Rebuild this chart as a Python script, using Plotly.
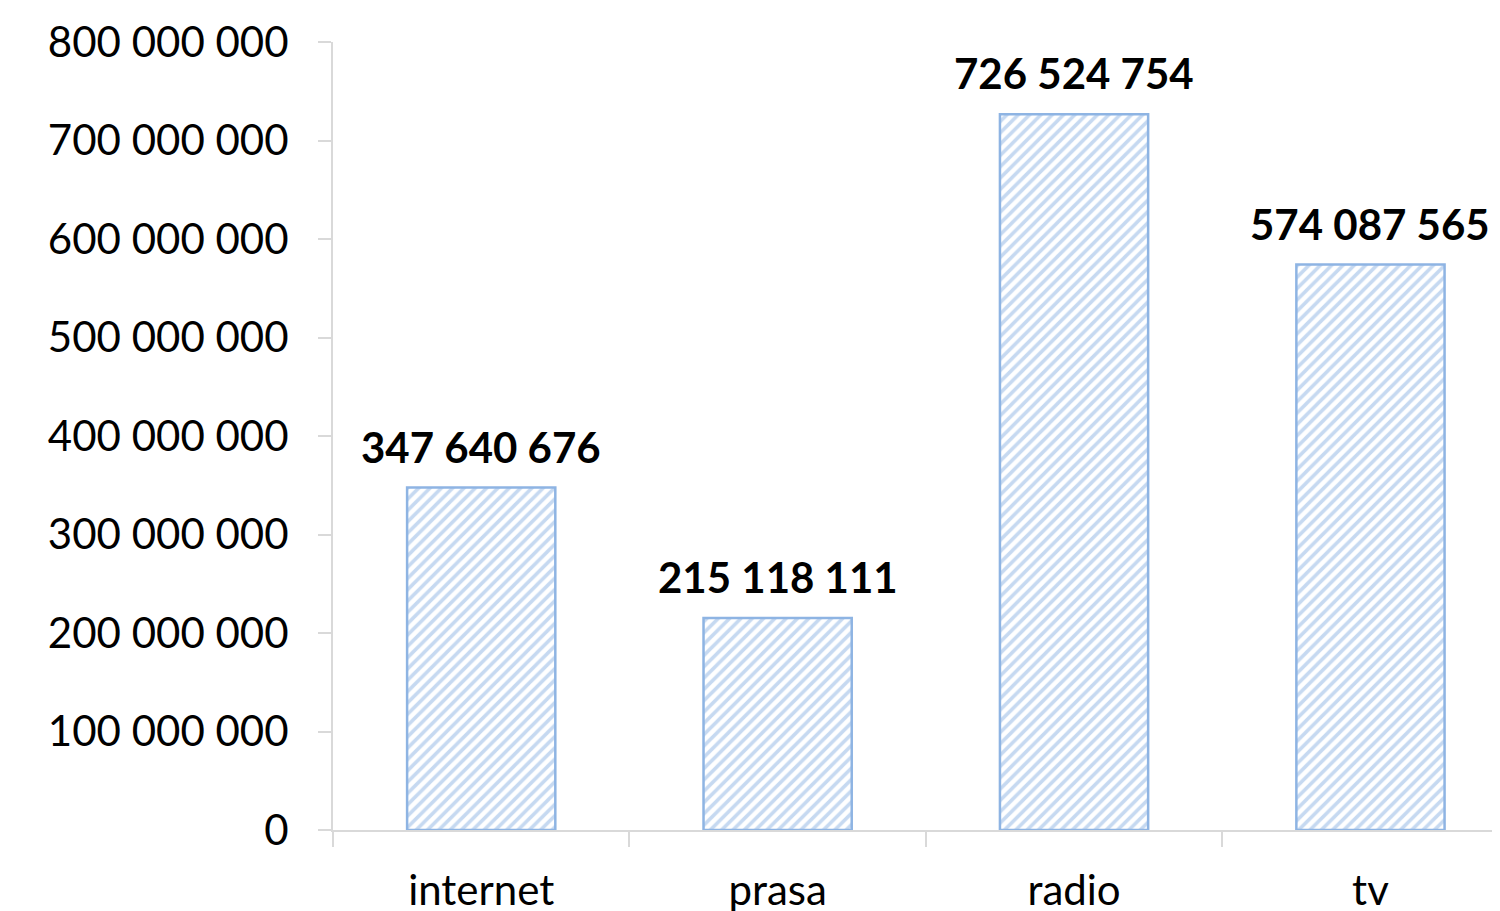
import plotly.graph_objects as go

categories = ["internet", "prasa", "radio", "tv"]
values = [347640676, 215118111, 726524754, 574087565]
tick_vals = [0, 100000000, 200000000, 300000000, 400000000,
             500000000, 600000000, 700000000, 800000000]

FONT = "Lato"
AXIS = "#d9d9d9"
BAR = "#8eb4e3"

fig = go.Figure()
fig.add_trace(go.Bar(
    x=categories, y=values,
    width=0.5,
    marker=dict(
        color="white",
        line=dict(color=BAR, width=2.5),
        pattern=dict(shape="/", fgcolor=BAR, bgcolor="white",
                     size=8, solidity=0.45, fillmode="overlay"),
    ),
    hoverinfo="x+y",
))

# value labels above the bars
labels = []
for cat, val in zip(categories, values):
    labels.append(dict(
        x=cat, y=val, xref="x", yref="y",
        text="<b>" + f"{val:,}".replace(",", " ") + "</b>",
        showarrow=False, yanchor="bottom", yshift=14,
        font=dict(family=FONT, size=42, color="black"),
    ))

# page body has an 8px margin; the figure is sized to fit the visible area
fig.update_layout(
    width=1484, height=903,
    margin=dict(l=325, r=0, t=34, b=81),
    paper_bgcolor="white", plot_bgcolor="white",
    separators=", ",
    showlegend=False,
    font=dict(family=FONT, color="black"),
    annotations=labels,
    xaxis=dict(
        range=[-0.5, 3.41],
        showline=True, linecolor=AXIS, linewidth=2,
        ticks="outside", tickson="boundaries", tickcolor=AXIS,
        ticklen=15, tickwidth=2,
        tickfont=dict(family=FONT, size=42, color="black"),
        ticklabelstandoff=23,
        showgrid=False, automargin=False,
    ),
    yaxis=dict(
        range=[0, 800000000],
        tickvals=tick_vals, tickformat=",d",
        showline=True, linecolor=AXIS, linewidth=2,
        ticks="outside", tickcolor=AXIS, ticklen=13, tickwidth=2,
        tickfont=dict(family=FONT, size=42, color="black"),
        ticklabelstandoff=21,
        showgrid=False, zeroline=False, automargin=False,
    ),
)

fig.write_html("out.html")
